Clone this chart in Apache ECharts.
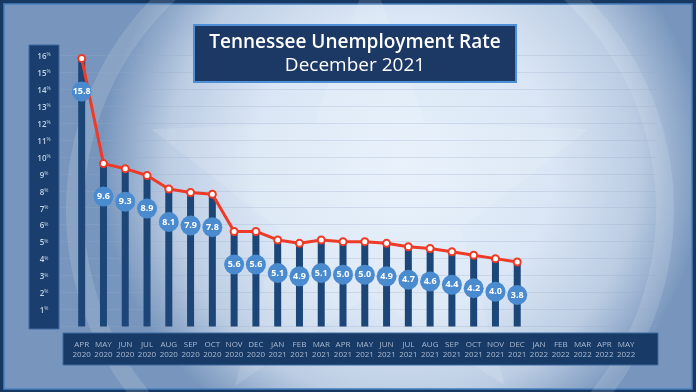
<!DOCTYPE html>
<html><head><meta charset="utf-8">
<script src="https://cdn.jsdelivr.net/npm/echarts@6/dist/echarts.min.js"></script>
<style>html,body{margin:0;padding:0;background:#183a66;}#c{width:696px;height:392px;}</style>
</head><body><div id="c"></div>
<script>
const months = ['APR','MAY','JUN','JUL','AUG','SEP','OCT','NOV','DEC','JAN','FEB','MAR','APR','MAY','JUN','JUL','AUG','SEP','OCT','NOV','DEC','JAN','FEB','MAR','APR','MAY'];
const years = ['2020','2020','2020','2020','2020','2020','2020','2020','2020','2021','2021','2021','2021','2021','2021','2021','2021','2021','2021','2021','2021','2022','2022','2022','2022','2022'];
const rates = [15.8,9.6,9.3,8.9,8.1,7.9,7.8,5.6,5.6,5.1,4.9,5.1,5.0,5.0,4.9,4.7,4.6,4.4,4.2,4.0,3.8,null,null,null,null,null];
const yTicks = [1,2,3,4,5,6,7,8,9,10,11,12,13,14,15,16];
const titleLine1 = 'Tennessee Unemployment Rate';
const titleLine2 = 'December 2021';

const categories = months.map((m,i)=> m + '\n' + years[i]);
const font = '"Open Sans", "Noto Sans", sans-serif';

function starPoints(cx, cy, R, r, rot){
  const pts=[];
  for(let i=0;i<10;i++){
    const a = rot + Math.PI/5*i - Math.PI/2;
    const rr = i%2===0?R:r;
    pts.push([cx+rr*Math.cos(a), cy+rr*Math.sin(a)]);
  }
  return pts;
}

const chart = echarts.init(document.getElementById('c'), null, {renderer:'canvas'});
const gTop = 55, gBottom = 392-326.5;
chart.setOption({
  backgroundColor: 'transparent',
  animation: false,
  graphic: [
    {type:'rect', z:-100, shape:{x:0,y:0,width:696,height:392}, style:{fill:'#173861'}},
    {type:'rect', z:-99, shape:{x:4,y:4,width:688,height:385},
      style:{fill:{type:'radial', x:0.58, y:0.42, r:0.78, colorStops:[
        {offset:0,color:'#e6f0fb'},{offset:0.5,color:'#dae6f5'},{offset:0.78,color:'#bccde3'},{offset:1,color:'#7896bd'}]},
        stroke:'#4a80bf', lineWidth:1.5}},
    {type:'polygon', z:-98, shape:{points: starPoints(370,200,230,95,0)}, style:{fill:'rgba(255,255,255,0.12)'}},
    {type:'circle', z:-97, shape:{cx:370,cy:210,r:295}, style:{fill:'none', stroke:'rgba(255,255,255,0.13)', lineWidth:18}},
    {type:'rect', z:-50, shape:{x:29,y:45,width:30,height:284}, style:{fill:'#1a3f6e', stroke:'#3b6aa0', lineWidth:1}},
    {type:'rect', z:-50, shape:{x:63,y:333,width:595,height:32}, style:{fill:'#183a66', stroke:'#3b6aa0', lineWidth:1}},
    {type:'rect', z:100, shape:{x:194,y:25,width:322,height:57}, style:{fill:'#1c3864', stroke:'#4f8fd8', lineWidth:2}},
    {type:'text', z:101, x:355, y:43, style:{text:titleLine1, fill:'#ffffff', font:'600 19px '+font, textAlign:'center', textVerticalAlign:'middle'}},
    {type:'text', z:101, x:355, y:66, style:{text:titleLine2, fill:'#ffffff', font:'400 19px '+font, textAlign:'center', textVerticalAlign:'middle'}}
  ],
  grid: [
    {left:70.8, right:59, top:gTop, bottom:gBottom},
    {left:60, right:39, top:gTop, bottom:gBottom}
  ],
  xAxis: [
    {type:'category', gridIndex:0, data:categories, boundaryGap:true,
      axisLine:{show:false}, axisTick:{show:false},
      axisLabel:{interval:0, margin:13, color:'#a9bad2', fontSize:8, lineHeight:10, fontFamily:font}},
    {type:'value', gridIndex:1, show:false, min:0, max:1}
  ],
  yAxis: [
    {type:'value', gridIndex:0, min:0, max:16, interval:1, show:false},
    {type:'value', gridIndex:1, min:0, max:16, interval:1,
      axisLine:{show:false}, axisTick:{show:false},
      splitLine:{show:true, lineStyle:{color:'rgba(150,170,200,0.28)', width:1}},
      axisLabel:{margin:16, align:'center', fontFamily:font, padding:[3,0,0,0],
        formatter: v => v===0 ? '' : '{n|'+v+'}{p|%}',
        rich:{n:{fontSize:8, fontWeight:600, color:'#c5d3e6'}, p:{fontSize:5, color:'#c5d3e6', verticalAlign:'top', padding:[0,0,4,0]}}}}
  ],
  series: [
    {type:'bar', xAxisIndex:0, yAxisIndex:0, data:rates, barWidth:7, itemStyle:{color:'#1b4677'}, z:2},
    {type:'line', xAxisIndex:0, yAxisIndex:0, data:rates, symbol:'circle', symbolSize:7,
      lineStyle:{color:'#ee3a26', width:3}, itemStyle:{color:'#ffffff', borderColor:'#ee3a26', borderWidth:2}, z:4},
    {type:'scatter', xAxisIndex:0, yAxisIndex:0, data:rates, symbol:'circle', symbolSize:20, symbolOffset:[0,33],
      itemStyle:{color:'#4a8bd0', opacity:1}, z:5,
      label:{show:true, position:'inside', color:'#ffffff', fontSize:9, fontWeight:700, fontFamily:font,
        formatter: p => p.value==null ? '' : p.value.toFixed(1)}}
  ]
});
</script>
</body></html>
